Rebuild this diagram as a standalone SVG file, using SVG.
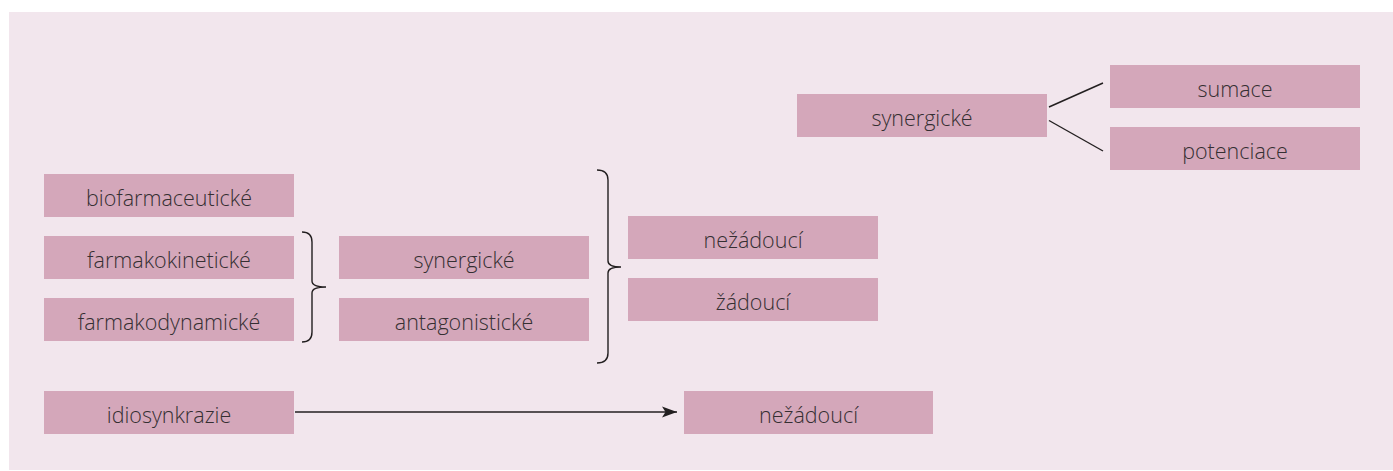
<svg xmlns="http://www.w3.org/2000/svg" width="1393" height="471" viewBox="0 0 1393 471">
<defs>
<style>
.bg{fill:#f2e6ed}
.box{fill:#d4a7ba}
.t{font-family:"Open Sans","Noto Sans","Liberation Sans",sans-serif;font-size:21.5px;font-weight:300;fill:#352f32;text-anchor:middle}
.ln{fill:none;stroke:#231f20;stroke-width:1.4}
</style>
<marker id="ah" markerWidth="16" markerHeight="12" viewBox="0 0 16 12" refX="15" refY="6" orient="auto" markerUnits="userSpaceOnUse">
<path d="M0,0.5 L15,6 L0,11.5 L3.5,6 Z" fill="#231f20"/>
</marker>
</defs>
<rect class="bg" x="9" y="12" width="1384" height="458"/>
<g id="connectors">
<path class="ln" d="M302,232 Q312,232 312,242 L312,281 Q312,287 326,287 Q312,287 312,293 L312,332 Q312,342 302,342"/>
<path class="ln" d="M597,170 Q608,170 608,180 L608,261 Q608,267 621,267 Q608,267 608,273 L608,353 Q608,363 597,363"/>
<line class="ln" x1="1049" y1="107" x2="1103" y2="83"/>
<line class="ln" x1="1049" y1="120.5" x2="1103" y2="151"/>
<line class="ln" x1="295" y1="412" x2="677" y2="412" marker-end="url(#ah)"/>
</g>
<g id="n-biofarm"><rect class="box" x="44" y="174" width="250" height="43"/><text class="t" x="169" y="205.5">biofarmaceutické</text></g>
<g id="n-kinet"><rect class="box" x="44" y="236" width="250" height="43"/><text class="t" x="169" y="267.5">farmakokinetické</text></g>
<g id="n-dynam"><rect class="box" x="44" y="298" width="250" height="43"/><text class="t" x="169" y="329.5">farmakodynamické</text></g>
<g id="n-syn1"><rect class="box" x="339" y="236" width="250" height="43"/><text class="t" x="464" y="267.5">synergické</text></g>
<g id="n-antag"><rect class="box" x="339" y="298" width="250" height="43"/><text class="t" x="464" y="329.5">antagonistické</text></g>
<g id="n-nez1"><rect class="box" x="628" y="216" width="250" height="43"/><text class="t" x="753" y="247.5">nežádoucí</text></g>
<g id="n-zad"><rect class="box" x="628" y="278" width="250" height="43"/><text class="t" x="753" y="309.5">žádoucí</text></g>
<g id="n-syn2"><rect class="box" x="797" y="94" width="250" height="43"/><text class="t" x="922" y="125.5">synergické</text></g>
<g id="n-sum"><rect class="box" x="1110" y="65" width="250" height="43"/><text class="t" x="1235" y="96.5">sumace</text></g>
<g id="n-pot"><rect class="box" x="1110" y="127" width="250" height="43"/><text class="t" x="1235" y="158.5">potenciace</text></g>
<g id="n-idio"><rect class="box" x="44" y="391" width="250" height="43"/><text class="t" x="169" y="422.5">idiosynkrazie</text></g>
<g id="n-nez2"><rect class="box" x="684" y="391" width="249" height="43"/><text class="t" x="808.5" y="422.5">nežádoucí</text></g>
</svg>
